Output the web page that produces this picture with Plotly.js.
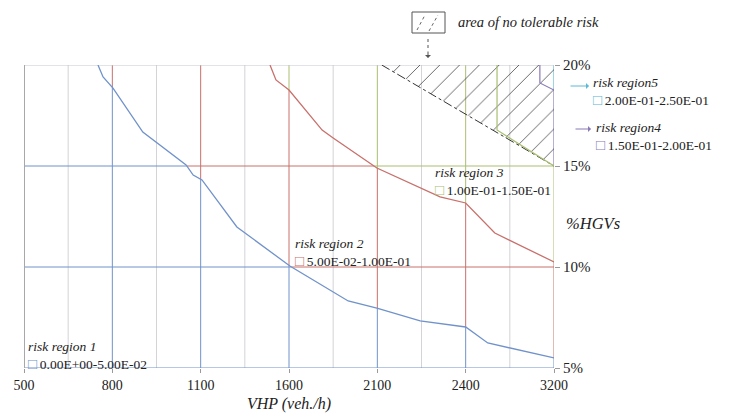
<!DOCTYPE html>
<html>
<head>
<meta charset="utf-8">
<script src="https://cdn.plot.ly/plotly-3.0.1.min.js"></script>
<style>html,body{margin:0;padding:0;background:#fff;}#chart{width:733px;height:415px;}</style>
</head>
<body>
<div id="chart"></div>
<script>
// ---- data (x is the position on the category-spaced VHP axis, 0..12) ----
const tickPos   = [0, 2, 4, 6, 8, 10, 12];
const tickText  = ['500', '800', '1100', '1600', '2100', '2400', '3200'];
const yTickVals = [5, 10, 15, 20];
const yTickText = ['5%', '10%', '15%', '20%'];

// boundary between risk region 1 and risk region 2
const blueX = [1.675, 1.79, 2.015, 2.69, 3.67, 3.83, 4.03, 4.82, 6.02, 7.34, 7.99, 8.97, 10.0, 10.5, 12.0];
const blueY = [20.0, 19.41, 18.86, 16.68, 15.05, 14.55, 14.31, 11.98, 10.05, 8.32, 7.97, 7.33, 7.03, 6.24, 5.50];
// boundary between risk region 2 and risk region 3
const redX = [5.57, 5.705, 6.0, 6.75, 7.0, 7.99, 9.42, 10.0, 10.66, 12.0];
const redY = [20.0, 19.26, 18.76, 16.78, 16.39, 14.90, 13.47, 13.17, 11.68, 10.25];
// boundary between risk region 3 and risk region 4
const greenX = [10.71, 10.71, 12.0];
const greenY = [20.0, 16.78, 15.0];
// boundary between risk region 4 and risk region 5
const purpleX = [11.68, 11.68, 12.0];
const purpleY = [20.0, 19.11, 18.76];
// area of no tolerable risk (dash-dot limit)
const limitX = [8.1, 12.0];
const limitY = [20.0, 15.0];

// region labels
const regionNames  = ['risk region 1', 'risk region 2', 'risk region 3', 'risk region5', 'risk region4'];
const regionRanges = ['0.00E+00-5.00E-02', '5.00E-02-1.00E-01', '1.00E-01-1.50E-01', '2.00E-01-2.50E-01', '1.50E-01-2.00E-01'];

const C = {
  blue: '#7092cb', red: '#c8706b', green: '#a9bf72', purple: '#8a78b8', cyan: '#5cb8d6', grey: '#d3d3d8'
};
const regionColors = [C.blue, C.red, C.green, C.cyan, C.purple];
const serif = 'Liberation Serif, Times New Roman, serif';

function yAt(xs, ys, x) {
  if (x <= xs[0]) return ys[0] >= 20 ? 20 : ys[0];
  for (let i = 0; i < xs.length - 1; i++) {
    if (x >= xs[i] && x <= xs[i + 1]) {
      if (xs[i + 1] === xs[i]) return ys[i + 1];
      const t = (x - xs[i]) / (xs[i + 1] - xs[i]);
      return ys[i] + t * (ys[i + 1] - ys[i]);
    }
  }
  return ys[ys.length - 1];
}
function xAt(xs, ys, y) {
  for (let i = 0; i < ys.length - 1; i++) {
    const a = ys[i], b = ys[i + 1];
    if ((y <= a && y >= b) || (y >= a && y <= b)) {
      if (a === b) return xs[i];
      const t = (y - a) / (b - a);
      return xs[i] + t * (xs[i + 1] - xs[i]);
    }
  }
  return 12;
}

const shapes = [];
function seg(x0, y0, x1, y1, color, width, dash) {
  shapes.push({type: 'line', xref: 'x', yref: 'y', x0: x0, y0: y0, x1: x1, y1: y1, layer: 'below',
    line: {color: color, width: width || 1, dash: dash || 'solid'}});
}

// minor (grey) vertical grid lines
[1, 3, 5, 7, 9, 11].forEach(i => seg(i, 5, i, 20, C.grey, 1));
// major vertical lines coloured by risk region
tickPos.slice(1).forEach(i => {
  const yb = Math.min(20, yAt(blueX, blueY, i));
  const yr = Math.min(20, yAt(redX, redY, i));
  const top3 = i >= 12 ? 15 : 20;
  seg(i, 5, i, yb, C.blue, 1);
  if (yb < 20) seg(i, yb, i, yr, C.red, 1);
  if (yr < top3) seg(i, yr, i, top3, C.green, 1);
  if (i >= 12) {
    seg(i, 15, i, purpleY[2], C.purple, 1.2);
    seg(i, purpleY[2], i, 20, C.cyan, 1.2);
  }
});
// horizontal lines
[15, 10].forEach(v => {
  const xb = xAt(blueX, blueY, v);
  const xr = xAt(redX, redY, v);
  seg(0, v, xb, v, C.blue, 1);
  seg(xb, v, xr, v, C.red, 1);
  if (xr < 12) seg(xr, v, 12, v, C.green, 1);
});
seg(0, 20, 12, 20, '#c6c8d0', 1);
seg(0, 5, 12, 5, C.blue, 1.2);
seg(0, 5, 0, 20, '#a8a8a8', 2);

// paper helpers for text placement
const PX = p => (p - 24) / 530;
const PY = p => (368 - p) / 303;
// legend icon box at top
shapes.push({type: 'rect', xref: 'paper', yref: 'paper', x0: PX(412), x1: PX(445), y0: PY(33), y1: PY(12),
  line: {color: '#555', width: 1}, fillcolor: 'rgba(0,0,0,0)'});
shapes.push({type: 'line', xref: 'paper', yref: 'paper', x0: PX(417), y0: PY(30), x1: PX(425), y1: PY(15),
  line: {color: '#666', width: 1, dash: 'dot'}});
shapes.push({type: 'line', xref: 'paper', yref: 'paper', x0: PX(429), y0: PY(31), x1: PX(438), y1: PY(15),
  line: {color: '#666', width: 1, dash: 'dot'}});
shapes.push({type: 'line', xref: 'paper', yref: 'paper', x0: PX(428), y0: PY(39), x1: PX(428), y1: PY(51),
  line: {color: '#555', width: 1, dash: 'dot'}});

const traces = [
  {x: limitX.concat([12, limitX[0]]), y: limitY.concat([20, limitY[0]]), mode: 'lines', fill: 'toself',
   fillcolor: 'rgba(0,0,0,0)', line: {width: 0, color: 'rgba(0,0,0,0)'},
   fillpattern: {shape: '/', fgcolor: '#333', fgopacity: 0.75, size: 14, solidity: 0.07}, hoverinfo: 'skip'},
  {x: limitX, y: limitY, mode: 'lines', line: {color: '#333', width: 1, dash: 'dashdot'}},
  {x: greenX, y: greenY, mode: 'lines', line: {color: C.green, width: 1.2}},
  {x: purpleX, y: purpleY, mode: 'lines', line: {color: C.purple, width: 1.2}},
  {x: blueX, y: blueY, mode: 'lines', line: {color: C.blue, width: 1.3}},
  {x: redX, y: redY, mode: 'lines', line: {color: C.red, width: 1.3}}
];

function txt(t, x, y, size, extra) {
  return Object.assign({text: t, xref: 'paper', yref: 'paper', x: PX(x), y: PY(y), xanchor: 'left', yanchor: 'middle',
    align: 'left', showarrow: false, font: {family: serif, size: size || 14, color: '#222'}}, extra || {});
}
function regionLabel(k) {
  return '<i>' + regionNames[k] + '</i><br><span style="color:' + regionColors[k] +
    ';font-size:15px">□</span>\u2009' + regionRanges[k];
}
const labelPos = [[26, 355], [293, 252], [433, 181], [591, 92], [594, 136]];
const annotations = labelPos.map((p, k) => txt(regionLabel(k), p[0], p[1], 13.5));
annotations.push(
  txt('<i>area of no tolerable risk</i>', 456, 22, 14.5),
  txt('<i>%HGVs</i>', 564, 223, 16.5),
  {text: '', xref: 'paper', yref: 'paper', x: PX(589), y: PY(86), ax: -20, ay: 0, showarrow: true,
   arrowhead: 1, arrowsize: 1, arrowwidth: 1, arrowcolor: C.cyan},
  {text: '', xref: 'paper', yref: 'paper', x: PX(591), y: PY(129), ax: -17, ay: 0, showarrow: true,
   arrowhead: 1, arrowsize: 1, arrowwidth: 1, arrowcolor: C.purple},
  {text: '', xref: 'paper', yref: 'paper', x: PX(428), y: PY(58), ax: 0, ay: -8, showarrow: true,
   arrowhead: 1, arrowsize: 1, arrowwidth: 1, arrowcolor: '#555'}
);

const layout = {
  width: 733, height: 415,
  margin: {l: 24, r: 179, t: 65, b: 47},
  paper_bgcolor: '#fff', plot_bgcolor: '#fff',
  showlegend: false,
  font: {family: serif, size: 14, color: '#222'},
  xaxis: {range: [0, 12], tickvals: tickPos, ticktext: tickText, showgrid: false, zeroline: false,
    showline: false, ticks: 'outside', ticklen: 4, tickcolor: '#9a9a9a', tickfont: {family: serif, size: 14, color: '#222'},
    title: {text: '<i>VHP (veh./h)</i>', font: {family: serif, size: 16, color: '#222'}, standoff: 6}, fixedrange: true},
  yaxis: {range: [5, 20], side: 'right', tickvals: yTickVals, ticktext: yTickText, showgrid: false, zeroline: false,
    showline: false, ticks: 'outside', ticklen: 5, tickcolor: '#9a9a9a', tickfont: {family: serif, size: 15, color: '#222'},
    fixedrange: true},
  shapes: shapes,
  annotations: annotations
};
Plotly.newPlot('chart', traces, layout, {staticPlot: true, displayModeBar: false});
</script>
</body>
</html>
